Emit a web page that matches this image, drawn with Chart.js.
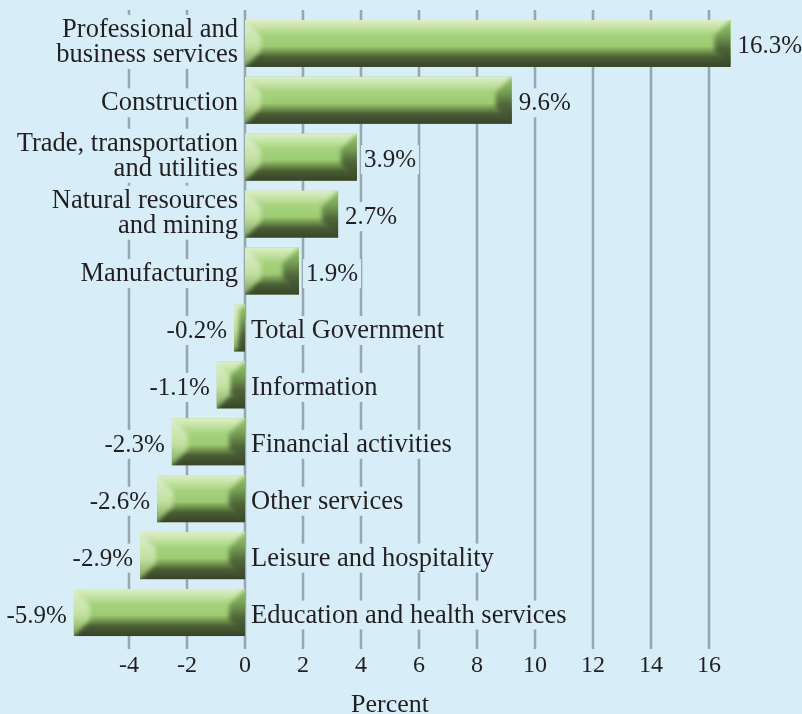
<!DOCTYPE html>
<html>
<head>
<meta charset="utf-8">
<script src="https://cdn.jsdelivr.net/npm/chart.js@4.4.0/dist/chart.umd.min.js"></script>
<style>
    html, body { margin: 0; padding: 0; background: #d7eef9; }
    #wrap { width: 802px; height: 714px; }
</style>
</head>
<body>
<div id="wrap"><canvas id="industry-chart" width="802" height="714"></canvas></div>
<script>
(function() {
    "use strict";

    // categories, top to bottom
    const categories = [
        ['Professional and', 'business services'],
        ['Construction'],
        ['Trade, transportation', 'and utilities'],
        ['Natural resources', 'and mining'],
        ['Manufacturing'],
        ['Total Government'],
        ['Information'],
        ['Financial activities'],
        ['Other services'],
        ['Leisure and hospitality'],
        ['Education and health services']
    ];
    // bar lengths as drawn in the picture
    const barValues = [16.74, 9.2, 3.86, 3.21, 1.86, -0.38, -0.97, -2.52, -3.03, -3.62, -5.9];
    // printed value labels
    const valueLabels = ['16.3%', '9.6%', '3.9%', '2.7%', '1.9%', '-0.2%', '-1.1%', '-2.3%', '-2.6%', '-2.9%', '-5.9%'];
    const xTicks = [-4, -2, 0, 2, 4, 6, 8, 10, 12, 14, 16];
    const xTitle = 'Percent';

    const bg = '#d7eef9';
    const ink = '#231f20';
    const serif = '"Liberation Serif", "DejaVu Serif", serif';

    const gridPlugin = {
        id: 'gridBehind',
        beforeDatasetsDraw: function(chart) {
            const ctx = chart.ctx, area = chart.chartArea, x = chart.scales.x;
            ctx.save();
            ctx.strokeStyle = '#97a7b0';
            ctx.lineWidth = 2.6;
            x.ticks.forEach(function(t) {
                const px = Math.round(x.getPixelForValue(t.value));
                ctx.beginPath();
                ctx.moveTo(px, area.top - 5);
                ctx.lineTo(px, area.bottom + 8);
                ctx.stroke();
            });
            ctx.restore();
        }
    };

    function shadeBar(ctx, x0, x1, y0, y1) {
        const face = ctx.createLinearGradient(0, y0, 0, y1);
        face.addColorStop(0, '#dcefc9');
        face.addColorStop(0.14, '#c8e4a8');
        face.addColorStop(0.32, '#a6d27d');
        face.addColorStop(0.56, '#9ccb73');
        face.addColorStop(0.67, '#74964e');
        face.addColorStop(0.79, '#4a5e33');
        face.addColorStop(1, '#37432a');
        ctx.fillStyle = face;
        ctx.fillRect(x0, y0, x1 - x0, y1 - y0);

        // soft bevelled ends
        ctx.save();
        ctx.beginPath();
        ctx.rect(x0, y0, x1 - x0, y1 - y0);
        ctx.clip();
        ctx.filter = 'blur(2px)';
        const b = Math.min(16, (x1 - x0) / 2);
        const lg = ctx.createLinearGradient(0, y0, 0, y1);
        lg.addColorStop(0, '#dcefca');
        lg.addColorStop(0.55, '#c3e1a1');
        lg.addColorStop(1, '#7ca753');
        ctx.fillStyle = lg;
        ctx.beginPath();
        ctx.moveTo(x0 - 4, y0 - 4);
        ctx.lineTo(x0 + b, y0 + b);
        ctx.lineTo(x0 + b, y1 - b);
        ctx.lineTo(x0 - 4, y1 + 4);
        ctx.closePath();
        ctx.fill();

        const rg = ctx.createLinearGradient(0, y0, 0, y1);
        rg.addColorStop(0, '#94c963');
        rg.addColorStop(0.3, '#79a355');
        rg.addColorStop(0.6, '#4f653a');
        rg.addColorStop(1, '#394628');
        ctx.fillStyle = rg;
        ctx.beginPath();
        ctx.moveTo(x1 + 4, y0 - 4);
        ctx.lineTo(x1 - b, y0 + b);
        ctx.lineTo(x1 - b, y1 - b);
        ctx.lineTo(x1 + 4, y1 + 4);
        ctx.closePath();
        ctx.fill();
        ctx.restore();
    }

    function placeText(list, lines, xPos, cy, align, size) {
        const lh = 25;
        const first = cy + 10 - (lines.length - 1) * 16.5;
        lines.forEach(function(line, k) {
            list.push({ text: line, x: xPos, y: first + k * lh, align: align, size: size });
        });
    }

    const labelPlugin = {
        id: 'barLabels',
        afterDatasetsDraw: function(chart) {
            const ctx = chart.ctx;
            const meta = chart.getDatasetMeta(0);
            const items = [];
            ctx.save();
            meta.data.forEach(function(bar, i) {
                const p = bar.getProps(['x', 'y', 'base', 'height'], true);
                const x0 = Math.min(p.x, p.base), x1 = Math.max(p.x, p.base);
                shadeBar(ctx, x0, x1, p.y - p.height / 2, p.y + p.height / 2);
                if (barValues[i] >= 0) {
                    placeText(items, categories[i], p.base - 7, p.y, 'right', 26.5);
                    placeText(items, [valueLabels[i]], p.x + 7, p.y, 'left', 25);
                } else {
                    placeText(items, [valueLabels[i]], p.x - 7, p.y, 'right', 25);
                    placeText(items, categories[i], p.base + 6, p.y, 'left', 26.5);
                }
            });
            ctx.textBaseline = 'alphabetic';
            items.forEach(function(it) {
                ctx.font = it.size + 'px ' + serif;
                it.w = ctx.measureText(it.text).width;
                const left = it.align === 'right' ? it.x - it.w : it.x;
                ctx.fillStyle = bg;
                ctx.fillRect(left - 3, it.y - 22, it.w + 6, 29);
            });
            items.forEach(function(it) {
                ctx.font = it.size + 'px ' + serif;
                ctx.textAlign = it.align;
                ctx.fillStyle = ink;
                ctx.fillText(it.text, it.x, it.y);
            });
            ctx.restore();
        }
    };

    const industryChart = document.getElementById('industry-chart');
    if (industryChart) {
        window.Chart && new Chart(industryChart, {
            type: 'bar',
            data: {
                labels: categories,
                datasets: [{
                    data: barValues,
                    backgroundColor: '#9ccb73',
                    borderWidth: 0,
                    barPercentage: 0.826,
                    categoryPercentage: 1,
                    clip: false
                }]
            },
            plugins: [gridPlugin, labelPlugin],
            options: {
                indexAxis: 'y',
                responsive: false,
                animation: false,
                layout: {
                    padding: { left: 71, right: 93, top: 15, bottom: 0 }
                },
                plugins: {
                    legend: { display: false },
                    tooltip: { enabled: false }
                },
                scales: {
                    x: {
                        min: -6,
                        max: 16,
                        afterBuildTicks: function(scale) {
                            scale.ticks = xTicks.map(function(v) { return { value: v }; });
                        },
                        grid: { display: false, drawTicks: false },
                        border: { display: false },
                        ticks: {
                            color: ink,
                            padding: 10,
                            maxRotation: 0,
                            font: { family: serif, size: 24 }
                        },
                        title: {
                            display: true,
                            text: xTitle,
                            color: ink,
                            padding: { top: 6, bottom: 0 },
                            font: { family: serif, size: 26, lineHeight: 0.7 }
                        }
                    },
                    y: {
                        display: false
                    }
                }
            }
        });
    }
})();
</script>
</body>
</html>
